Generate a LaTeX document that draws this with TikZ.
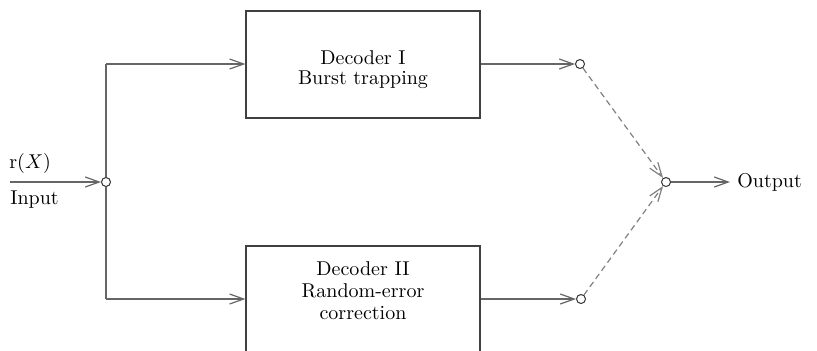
\documentclass[tikz,border=0pt]{standalone}
\usetikzlibrary{arrows.meta}
\begin{document}
\begin{tikzpicture}[x=0.5pt,y=-0.5pt,
  wire/.style={draw=black!60, line width=0.6pt},
  arr/.style={-{Straight Barb[length=7pt,width=5pt]}},
  dash wire/.style={draw=black!50, line width=0.6pt, dash pattern=on 3pt off 2pt},
  decbox/.style={draw=black!75, line width=0.6pt, minimum width=117pt, minimum height=53.5pt, inner sep=0pt},
  dectext/.style={align=center, inner sep=0pt, font={\fontsize{10}{10}\selectfont}},
  dectextb/.style={align=center, inner sep=0pt, font={\fontsize{10}{11}\selectfont}},
  junc/.style={circle, draw=black!80, line width=0.5pt, fill=white, inner sep=0pt, minimum size=4.5pt},
  lbl/.style={inner sep=0pt, font=\normalsize}]
\clip (0,0) rectangle (817,350);
\useasboundingbox (0,0) rectangle (817,350);
% boxes
\node[decbox] (dec1) at (363,64.5) {};
\node[decbox] (dec2) at (363,299.5) {};
\node[dectext] (dec1t) at (363,70) {Decoder I\\Burst trapping};
\node[dectextb] (dec2t) at (363,291) {Decoder II\\Random-error\\correction};
% junctions
\node[junc] (jin) at (106,182) {};
\node[junc] (j1) at (580,64) {};
\node[junc] (j2) at (581,299) {};
\node[junc] (jout) at (666,182) {};
% coordinates
\coordinate (src) at (10,182);
\coordinate (c1) at (106,64);
\coordinate (c2) at (106,299);
\coordinate (outtip) at (730,182);
% labels
\node[lbl, anchor=west] (rx) at (9,163) {r$(X)$};
\node[lbl, anchor=west] (inp) at (10,200) {Input};
\node[lbl, anchor=west] (outl) at (737,182) {Output};
% connectors
\draw[wire, arr] (src) -- (jin);
\draw[wire] (jin) -- (c1);
\draw[wire] (jin) -- (c2);
\draw[wire, arr] (c1) -- (c1 -| dec1.west);
\draw[wire, arr] (c2) -- (c2 -| dec2.west);
\draw[wire, arr] (dec1.east |- j1) -- (j1);
\draw[wire, arr] (dec2.east |- j2) -- (j2);
\draw[dash wire, arr] (j1) -- (jout);
\draw[dash wire, arr] (j2) -- (jout);
\draw[wire, arr] (jout) -- (outtip);
\end{tikzpicture}
\end{document}
